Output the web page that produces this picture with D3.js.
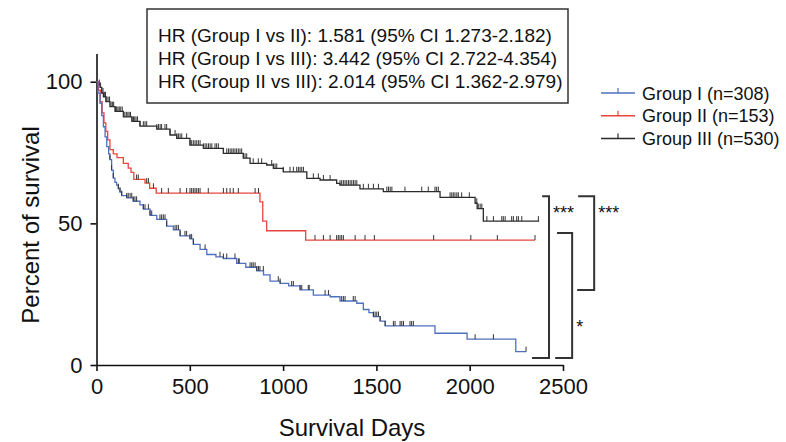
<!DOCTYPE html>
<meta charset="utf-8">
<style>
body { margin: 0; background: #fff; }
svg { font-family: "Liberation Sans", Arial, sans-serif; }
.axis path, .axis line { stroke: #111; stroke-width: 1.6px; }
.axis text { font-size: 22px; fill: #111; }
.curve { fill: none; stroke-width: 1.3px; }
.cens { stroke: #333; stroke-width: 1px; }
.brk { fill: none; stroke: #333; stroke-width: 2px; }
</style>
<svg id="chart" width="786" height="442"></svg>
<script src="https://cdnjs.cloudflare.com/ajax/libs/d3/7.8.5/d3.min.js"></script>
<script>
// survival steps: [day, percent]
var group1 = [[0,100],[8,96],[19,92.4],[28,88],[37,84.1],[46,80.5],[55,77.1],[65,74.5],[72,72.5],[81,68.8],[90,66],[99,64.5],[108,63.5],[117,62.2],[126,61],[135,59.8],[162,59],[197,57.8],[233,56.5],[251,55],[287,52.8],[323,51.4],[376,49],[412,47.7],[448,45.6],[501,44.5],[519,42.6],[555,40.8],[591,39],[640,38.2],[680,37.6],[751,35.9],[800,34.5],[859,33.2],[895,31.8],[930,29.6],[984,28.8],[1030,27.9],[1091,26.5],[1162,24.7],[1252,24.1],[1305,22.6],[1395,21.8],[1430,19.6],[1460,18.5],[1484,17.1],[1520,15.5],[1547,13.8],[1814,11.2],[1986,9.1],[2247,4.7],[2302,4.7]];
var group2 = [[0,100],[10,97],[20,93],[30,89],[40,85.5],[50,82.5],[60,79.5],[72,76],[90,74.5],[110,73.2],[144,71.2],[170,69.5],[185,68],[200,65.5],[260,64.2],[285,62.4],[320,60.7],[876,57.6],[891,50.8],[912,47.4],[1121,44.1],[2350,44.1]];
var group3 = [[0,100],[10,99],[19,98],[28,96],[37,94.7],[50,93],[72,91.2],[100,89.5],[144,87.6],[190,86],[233,84.3],[323,83.3],[394,81.2],[430,80],[501,77.6],[573,76.5],[680,74.7],[787,73],[823,71.2],[912,70.6],[948,69.4],[1001,68.2],[1127,65.9],[1198,65.3],[1287,64.1],[1305,63.5],[1412,62.2],[1537,61.2],[1841,59.2],[2029,57.1],[2040,55.2],[2073,50.8],[2372,50.8]];

// censored days
var ticks1 = [72,81,90,117,126,135,162,170,180,189,197,206,215,251,260,278,287,296,340,349,358,367,376,421,430,439,448,474,483,501,510,519,582,662,680,698,742,760,765,823,832,840,850,859,868,876,894,974,984,1046,1055,1091,1100,1135,1140,1225,1243,1314,1323,1332,1376,1386,1484,1493,1502,1511,1520,1547,1591,1600,1627,1636,1645,1680,1689,1698,2029,2127,2302];
var ticks2 = [215,224,269,278,305,349,385,448,483,501,510,519,528,537,546,555,599,680,698,716,733,760,850,868,1171,1216,1252,1287,1296,1305,1314,1323,1386,1439,1489,1807,2006,2148,2350];
var ticks3 = [15,22,28,35,42,48,55,62,70,78,85,92,100,108,115,122,130,138,145,152,160,168,175,182,190,198,205,212,220,233,251,260,269,323,332,341,349,367,376,394,421,430,439,448,457,483,501,510,519,528,537,546,555,573,582,591,600,609,618,635,644,653,680,698,707,716,725,733,742,751,760,769,778,787,796,805,840,867,885,939,948,957,966,1001,1037,1055,1073,1082,1091,1100,1109,1162,1189,1216,1252,1305,1314,1323,1332,1341,1350,1359,1368,1377,1386,1395,1430,1457,1484,1511,1556,1565,1574,1583,1653,1743,1778,1814,1823,1832,1895,1904,1912,1921,1931,1939,1957,1998,2038,2046,2056,2065,2092,2127,2172,2180,2190,2225,2234,2252,2261,2279,2368];

var groupNames = ["Group I (n=308)", "Group II (n=153)", "Group III (n=530)"];
var groupColors = ["#4f6fbf", "#e8453c", "#2b2b2b"];

var hrLines = [
  "HR (Group I vs II): 1.581 (95% CI 1.273-2.182)",
  "HR (Group I vs III): 3.442 (95% CI 2.722-4.354)",
  "HR (Group II vs III): 2.014 (95% CI 1.362-2.979)"
];

// significance brackets: x day, top/bottom percent, left ends of top/bottom arms
var brackets = [
  {x: 2425, top: 59.6, bottom: 2.5, armTop: 2388, armBottom: 2334, label: "***", ly: 55},
  {x: 2549, top: 46.6, bottom: 2.5, armTop: 2468, armBottom: 2458, label: "*", ly: 15},
  {x: 2667, top: 59.6, bottom: 26.5, armTop: 2581, armBottom: 2576, label: "***", ly: 55}
];

var xTicks = [0, 500, 1000, 1500, 2000, 2500];
var yTicks = [0, 50, 100];

var svg = d3.select("#chart");
var x = d3.scaleLinear().domain([0, 2500]).range([96.5, 563]);
var y = d3.scaleLinear().domain([0, 110]).range([365, 53.4]);

svg.append("g").attr("class", "axis")
  .attr("transform", "translate(0," + y(0) + ")")
  .call(d3.axisBottom(x).tickValues(xTicks).tickFormat(d3.format("d"))
    .tickSize(6).tickSizeOuter(0).tickPadding(7));

svg.append("g").attr("class", "axis")
  .attr("transform", "translate(" + x(0) + ",0)")
  .call(d3.axisLeft(y).tickValues(yTicks).tickSize(6).tickSizeOuter(0).tickPadding(8));

svg.append("text")
  .attr("x", 352).attr("y", 436)
  .attr("text-anchor", "middle")
  .style("font-size", "24px")
  .attr("fill", "#111")
  .text("Survival Days");

svg.append("text")
  .attr("transform", "translate(39,225) rotate(-90)")
  .attr("text-anchor", "middle")
  .style("font-size", "24px")
  .attr("fill", "#111")
  .text("Percent of survival");

var line = d3.line()
  .x(function(d) { return x(d[0]); })
  .y(function(d) { return y(d[1]); })
  .curve(d3.curveStepAfter);

var bis = d3.bisector(function(d) { return d[0]; }).right;
function survAt(data, t) {
  var i = bis(data, t) - 1;
  return data[Math.max(0, i)][1];
}

var groups = [group1, group2, group3];
var tickSets = [ticks1, ticks2, ticks3];

// draw black first, then red, then blue
[2, 1, 0].forEach(function(k) {
  var data = groups[k];
  svg.append("path")
    .datum(data)
    .attr("class", "curve")
    .attr("stroke", groupColors[k])
    .attr("d", line);

  svg.selectAll(".cens" + k)
    .data(tickSets[k])
    .enter().append("line")
    .attr("class", "cens cens" + k)
    .attr("x1", function(d) { return x(d); })
    .attr("x2", function(d) { return x(d); })
    .attr("y1", function(d) { return y(survAt(data, d)); })
    .attr("y2", function(d) { return y(survAt(data, d)) - 5; });
});

// HR box
var box = svg.append("g").attr("transform", "translate(147,9)");
box.append("rect")
  .attr("width", 421).attr("height", 94)
  .attr("fill", "#fff").attr("stroke", "#333").attr("stroke-width", 1.5);
box.selectAll("text")
  .data(hrLines)
  .enter().append("text")
  .attr("x", 11)
  .attr("y", function(d, i) { return 33 + i * 23; })
  .style("font-size", "19px")
  .attr("fill", "#111")
  .text(function(d) { return d; });

// legend
var legend = svg.selectAll(".legend")
  .data(groupNames)
  .enter().append("g")
  .attr("class", "legend")
  .attr("transform", function(d, i) { return "translate(601," + (93 + i * 22.7) + ")"; });

legend.append("line")
  .attr("x1", 0).attr("x2", 34)
  .attr("stroke", function(d, i) { return groupColors[i]; })
  .attr("stroke-width", 1.5);
legend.append("line")
  .attr("x1", 17).attr("x2", 17).attr("y1", 0).attr("y2", -5)
  .attr("stroke", function(d, i) { return groupColors[i]; })
  .attr("stroke-width", 1.2);
legend.append("text")
  .attr("x", 41).attr("y", 6.5)
  .style("font-size", "18px")
  .attr("fill", "#111")
  .text(function(d) { return d; });

// significance brackets
brackets.forEach(function(b) {
  svg.append("path")
    .attr("class", "brk")
    .attr("d", "M" + x(b.armTop) + "," + y(b.top) +
               "H" + x(b.x) + "V" + y(b.bottom) + "H" + x(b.armBottom));
  svg.append("text")
    .attr("x", x(b.x) + 4)
    .attr("y", y(b.ly) + 10)
    .style("font-size", "18px")
    .attr("fill", "#111")
    .text(b.label);
});
</script>
